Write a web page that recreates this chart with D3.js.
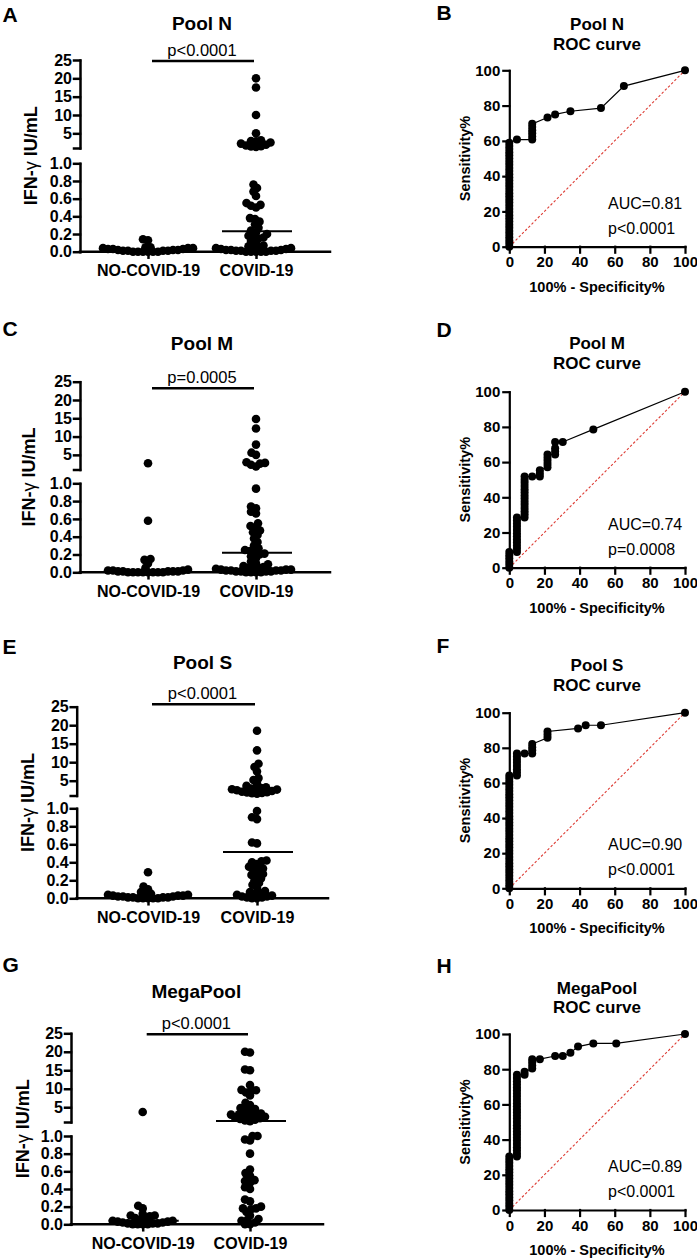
<!DOCTYPE html>
<html>
<head>
<meta charset="utf-8">
<script src="https://cdn.jsdelivr.net/npm/d3@7"></script>
<style>
body { margin: 0; background: #fff; }
text { font-family: "Liberation Sans", Arial, Helvetica, sans-serif; fill: #000; }
</style>
</head>
<body>
<svg id="fig" width="697" height="1260"></svg>
<script>
// ---- data ----
var categories = ["NO-COVID-19", "COVID-19"];
var upperTicks = [5, 10, 15, 20, 25];
var lowerTicks = [0, 0.2, 0.4, 0.6, 0.8, 1.0];
var rocTicks = [0, 20, 40, 60, 80, 100];

var poolTitles = ["Pool N", "Pool M", "Pool S", "MegaPool"];
var groupPValues = ["p<0.0001", "p=0.0005", "p<0.0001", "p<0.0001"];
var aucLabels = ["AUC=0.81", "AUC=0.74", "AUC=0.90", "AUC=0.89"];
var rocPValues = ["p<0.0001", "p=0.0008", "p<0.0001", "p<0.0001"];

// IFN-gamma IU/mL, NO-COVID-19 (n=23) and COVID-19 (n=56)
var poolN_neg = [0.14, 0.13, 0.05, 0.05, 0.04, 0.04, 0.04, 0.03, 0.03, 0.03, 0.02, 0.02, 0.02, 0.01, 0.01, 0.01, 0.01, 0, 0, 0, 0, 0, 0];
var poolN_pos = [20, 17.5, 10, 5, 3.1, 2.9, 2.8, 2.5, 2.2, 1.9, 1.7, 1.5, 1.4, 1.3,
  0.76, 0.72, 0.68, 0.63, 0.55, 0.53, 0.52, 0.50, 0.38, 0.37, 0.34, 0.31, 0.27, 0.24, 0.22,
  0.20, 0.18, 0.17, 0.16, 0.15, 0.12, 0.10, 0.07, 0.06, 0.05, 0.05, 0.04, 0.04, 0.03, 0.03,
  0.02, 0.02, 0.02, 0.01, 0.01, 0.01, 0.01, 0, 0, 0, 0, 0];

var poolM_neg = [2.7, 0.58, 0.15, 0.14, 0.10, 0.05, 0.03, 0.02, 0.02, 0.02, 0.01, 0.01, 0.01, 0.01, 0.01, 0, 0, 0, 0, 0, 0, 0, 0];
var poolM_pos = [14.8, 12.2, 7.8, 5.6, 5.0, 3.0, 2.8, 2.6, 2.3, 1.8,
  0.94, 0.74, 0.72, 0.68, 0.66, 0.55, 0.52, 0.50, 0.47, 0.45, 0.42, 0.38, 0.34, 0.30, 0.27,
  0.25, 0.24, 0.23, 0.21, 0.20, 0.18, 0.16, 0.12, 0.10, 0.09, 0.07, 0.06, 0.05, 0.05, 0.05,
  0.04, 0.03, 0.03, 0.03, 0.02, 0.02, 0.02, 0.02, 0.01, 0.01, 0.01, 0.01, 0, 0, 0, 0];

var poolS_neg = [0.29, 0.13, 0.10, 0.07, 0.05, 0.05, 0.04, 0.04, 0.03, 0.03, 0.03, 0.02, 0.02, 0.02, 0.01, 0.01, 0.01, 0.01, 0, 0, 0, 0, 0];
var poolS_pos = [18.5, 13.2, 9.6, 8.7, 7.5, 5.7, 5.2, 4.2, 3.6, 3.2, 3.0, 2.9, 2.8, 2.7, 2.6,
  2.4, 2.2, 2.0, 1.9, 1.8, 1.7, 1.6, 1.5, 0.97, 0.90, 0.88, 0.62, 0.61, 0.42, 0.41, 0.40,
  0.38, 0.35, 0.33, 0.32, 0.30, 0.27, 0.26, 0.25, 0.22, 0.20, 0.17, 0.15, 0.12, 0.08, 0.07,
  0.06, 0.05, 0.04, 0.03, 0.02, 0.02, 0.01, 0.01, 0, 0];

var megaPool_neg = [3.7, 0.21, 0.18, 0.12, 0.10, 0.10, 0.09, 0.07, 0.06, 0.05, 0.04, 0.04, 0.03, 0.03, 0.02, 0.02, 0.01, 0.01, 0.01, 0, 0, 0, 0];
var megaPool_pos = [20, 19.8, 15.2, 15, 11, 9.7, 9.6, 9.5, 9.0, 8.2, 6.2, 5.6, 4.8, 4.5, 4.2,
  4.0, 3.3, 3.1, 3.0, 2.9, 2.8, 2.6, 2.4, 2.2, 2.0, 1.8, 1.6, 1.4, 1.2, 1.0, 1.0, 0.96,
  0.95, 0.80, 0.62, 0.58, 0.55, 0.50, 0.49, 0.47, 0.42, 0.40, 0.28, 0.26, 0.20, 0.18, 0.18,
  0.17, 0.14, 0.10, 0.06, 0.05, 0.04, 0.02, 0, 0];

// ROC points: [100% - specificity, sensitivity]
var rocPoolN = [[0,0],[0,1.79],[0,3.57],[0,5.36],[0,7.14],[0,8.93],[0,10.71],[0,12.5],[0,14.29],[0,16.07],
  [0,17.86],[0,19.64],[0,21.43],[0,23.21],[0,25],[0,26.79],[0,28.57],[0,30.36],[0,32.14],[0,33.93],
  [0,35.71],[0,37.5],[0,39.29],[0,41.07],[0,42.86],[0,44.64],[0,46.43],[0,48.21],[0,50],[0,51.79],
  [0,53.57],[0,55.36],[0,57.14],[0,58.93],[4.35,60.71],[13.04,60.71],[13.04,62.5],[13.04,64.29],
  [13.04,66.07],[13.04,67.86],[13.04,69.64],[21.74,73.21],[26.09,75],[34.78,76.79],[52.17,78.57],
  [65.22,91.07],[100,100]];
var rocPoolM = [[0,0],[0,1.79],[0,3.57],[0,5.36],[0,7.14],[0,8.93],
  [4.35,8.93],[4.35,10.71],[4.35,12.5],[4.35,14.29],[4.35,16.07],[4.35,17.86],[4.35,19.64],
  [4.35,21.43],[4.35,23.21],[4.35,25],[4.35,26.79],[4.35,28.57],
  [8.7,28.57],[8.7,30.36],[8.7,32.14],[8.7,33.93],[8.7,35.71],[8.7,37.5],[8.7,39.29],[8.7,41.07],
  [8.7,42.86],[8.7,44.64],[8.7,46.43],[8.7,48.21],[8.7,50],[8.7,51.79],
  [13.04,51.79],[17.39,51.79],[17.39,53.57],[17.39,55.36],[21.74,57.14],[21.74,58.93],[21.74,60.71],
  [21.74,62.5],[21.74,64.29],[26.09,64.29],[26.09,66.07],[26.09,67.86],[26.09,71.43],[30.43,71.43],
  [47.83,78.57],[100,100]];
var rocPoolS = [[0,0],[0,1.79],[0,3.57],[0,5.36],[0,7.14],[0,8.93],[0,10.71],[0,12.5],[0,14.29],[0,16.07],
  [0,17.86],[0,19.64],[0,21.43],[0,23.21],[0,25],[0,26.79],[0,28.57],[0,30.36],[0,32.14],[0,33.93],
  [0,35.71],[0,37.5],[0,39.29],[0,41.07],[0,42.86],[0,44.64],[0,46.43],[0,48.21],[0,50],[0,51.79],
  [0,53.57],[0,55.36],[0,57.14],[0,58.93],[0,60.71],[0,62.5],[0,64.29],
  [4.35,64.29],[4.35,66.07],[4.35,67.86],[4.35,69.64],[4.35,71.43],[4.35,73.21],[4.35,75],[4.35,76.79],
  [8.7,76.79],[13.04,76.79],[13.04,78.57],[13.04,80.36],[13.04,82.14],[21.74,85.71],[21.74,87.5],
  [21.74,89.29],[39.13,91.07],[43.48,92.86],[52.17,92.86],[100,100]];
var rocMegaPool = [[0,0],[0,1.79],[0,3.57],[0,5.36],[0,7.14],[0,8.93],[0,10.71],[0,12.5],[0,14.29],
  [0,16.07],[0,17.86],[0,19.64],[0,21.43],[0,23.21],[0,25],[0,26.79],[0,28.57],[0,30.36],
  [4.35,30.36],[4.35,32.14],[4.35,33.93],[4.35,35.71],[4.35,37.5],[4.35,39.29],[4.35,41.07],
  [4.35,42.86],[4.35,44.64],[4.35,46.43],[4.35,48.21],[4.35,50],[4.35,51.79],[4.35,53.57],
  [4.35,55.36],[4.35,57.14],[4.35,58.93],[4.35,60.71],[4.35,62.5],[4.35,64.29],[4.35,66.07],
  [4.35,67.86],[4.35,69.64],[4.35,71.43],[4.35,73.21],[4.35,75],[4.35,76.79],
  [8.7,76.79],[8.7,78.57],[13.04,80.36],[13.04,82.14],[13.04,83.93],[13.04,85.71],[17.39,85.71],
  [26.09,87.5],[30.43,87.5],[34.78,89.29],[39.13,92.86],[47.83,94.64],[60.87,94.64],[100,100]];

// ---- layout (pixels) ----
var scatterLayout = [
  {letter: "A", letterY: 21.5, top: 60, y1u: 148, y1l: 163.3, y0: 251.7, ax: 80, xEnd: 330, c1: 148, c2: 256, titleY: 23.3, barY: 61, ytX: 31},
  {letter: "C", letterY: 336, top: 381.7, y1u: 469.5, y1l: 483.3, y0: 572.3, ax: 80, xEnd: 330, c1: 148, c2: 256, titleY: 343.3, barY: 388.3, ytX: 29},
  {letter: "E", letterY: 654, top: 706.7, y1u: 795.5, y1l: 808.3, y0: 898.3, ax: 76.7, xEnd: 328, c1: 148, c2: 257, titleY: 662.5, barY: 704.3, ytX: 28},
  {letter: "G", letterY: 971.5, top: 1033.3, y1u: 1122, y1l: 1136, y0: 1224.3, ax: 71, xEnd: 323, c1: 142.7, c2: 250, titleY: 991, barY: 1034.3, ytX: 23}
];
var rocLayout = [
  {letter: "B", letterY: 20, y0: 246.7, y100: 70.3, t1: 24, t2: 43.5},
  {letter: "D", letterY: 336.7, y0: 567.7, y100: 391.7, t1: 343.3, t2: 363.3},
  {letter: "F", letterY: 653, y0: 888.3, y100: 712.7, t1: 665, t2: 685},
  {letter: "H", letterY: 973, y0: 1210, y100: 1034, t1: 988, t2: 1006.7}
];
var rocX0 = 509.3, rocX1 = 685, rocMid = 597;

var svg = d3.select("#fig");
var FONT = '"Liberation Sans", Arial, Helvetica, sans-serif';

// simple beeswarm: spread points sideways so dots do not pile up
function swarm(vals, yf, D) {
  var pts = vals.map(function(v) { return {v: v, y: yf(v), dx: 0}; })
    .sort(function(a, b) { return a.v - b.v; });
  var placed = [];
  pts.forEach(function(p) {
    for (var k = 0; k < 800; k++) {
      var off = (k % 2 ? -1 : 1) * Math.ceil(k / 2) * 0.5;
      var hit = placed.some(function(q) {
        var ddx = off - q.dx, ddy = p.y - q.y;
        return ddx * ddx + ddy * ddy < D * D;
      });
      if (!hit) { p.dx = off; break; }
    }
    placed.push(p);
  });
  return pts;
}

function styleAxis(ax, size, sw) {
  ax.attr("font-family", FONT).attr("font-size", size).attr("font-weight", "bold");
  ax.selectAll("path, line").attr("stroke", "#000").attr("stroke-width", sw).attr("stroke-linecap", "square");
  ax.selectAll("text").attr("fill", "#000");
}

function drawScatter(L, title, pText, neg, pos) {
  var g = svg.append("g");
  var lower = d3.scaleLinear().domain([0, 1]).range([L.y0, L.y1l]);
  var upper = d3.scaleLinear().domain([1, 25]).range([L.y1u, L.top]);
  var yv = function(v) { return v <= 1 ? lower(v) : upper(v); };
  var x = d3.scalePoint().domain(categories).range([L.c1, L.c2]);

  g.append("text").attr("x", 2.5).attr("y", L.letterY)
    .attr("font-size", 21).attr("font-weight", "bold").text(L.letter);

  var cx = (L.c1 + L.c2) / 2;
  g.append("text").attr("x", cx).attr("y", L.titleY + 6.8).attr("text-anchor", "middle")
    .attr("font-size", 19).attr("font-weight", "bold").text(title);

  // y axis, broken in two segments
  var ua = g.append("g").attr("transform", "translate(" + L.ax + ",0)")
    .call(d3.axisLeft(upper).tickValues(upperTicks.concat([1]))
      .tickFormat(function(d) { return d === 1 ? "" : d; })
      .tickSize(6).tickSizeOuter(0).tickPadding(2));
  styleAxis(ua, 16, 2.5);
  var la = g.append("g").attr("transform", "translate(" + L.ax + ",0)")
    .call(d3.axisLeft(lower).tickValues(lowerTicks).tickFormat(d3.format(".1f"))
      .tickSize(6).tickSizeOuter(0).tickPadding(2));
  styleAxis(la, 16, 2.5);

  // x axis
  var xa = g.append("g").attr("transform", "translate(0," + L.y0 + ")")
    .call(d3.axisBottom(x).tickSize(6).tickSizeOuter(0).tickPadding(7));
  xa.select(".domain").attr("d", "M" + L.ax + ",0H" + L.xEnd);
  styleAxis(xa, 16, 2.5);

  var yt = g.append("text").attr("transform", "translate(" + L.ytX + "," + ((L.top + L.y0) / 2) + ") rotate(-90)")
    .attr("text-anchor", "middle").attr("dy", "0.36em").attr("font-size", 18).attr("font-weight", "bold");
  yt.append("tspan").text("IFN-");
  yt.append("tspan").attr("font-weight", "normal").text("\u03b3");
  yt.append("tspan").text(" IU/mL");

  // significance bar
  g.append("line").attr("x1", L.c1 + 4).attr("x2", L.c2 - 2).attr("y1", L.barY).attr("y2", L.barY)
    .attr("stroke", "#000").attr("stroke-width", 2.5);
  g.append("text").attr("x", cx).attr("y", L.barY - 5).attr("text-anchor", "middle")
    .attr("font-size", 16.5).text(pText);

  [neg, pos].forEach(function(vals, i) {
    var xc = x(categories[i]);
    var pts = swarm(vals, yv, 4.9);
    g.append("g").selectAll("circle").data(pts).enter().append("circle")
      .attr("cx", function(d) { return xc + d.dx; })
      .attr("cy", function(d) { return d.y; })
      .attr("r", 4.3).attr("fill", "#000");
    var m = yv(d3.median(vals));
    g.append("line").attr("x1", xc - 34).attr("x2", xc + 36).attr("y1", m).attr("y2", m)
      .attr("stroke", "#000").attr("stroke-width", 2);
  });
}

function drawRoc(R, title, auc, pv, pts) {
  var g = svg.append("g");
  var x = d3.scaleLinear().domain([0, 100]).range([rocX0, rocX1]);
  var y = d3.scaleLinear().domain([0, 100]).range([R.y0, R.y100]);

  g.append("text").attr("x", 436.5).attr("y", R.letterY)
    .attr("font-size", 21).attr("font-weight", "bold").text(R.letter);
  g.append("text").attr("x", rocMid).attr("y", R.t1 + 6).attr("text-anchor", "middle")
    .attr("font-size", 17).attr("font-weight", "bold").text(title);
  g.append("text").attr("x", rocMid).attr("y", R.t2 + 6).attr("text-anchor", "middle")
    .attr("font-size", 17).attr("font-weight", "bold").text("ROC curve");

  // chance line, under the axes and the curve
  g.append("path").datum([[0, 0], [100, 100]])
    .attr("d", d3.line().x(function(d) { return x(d[0]); }).y(function(d) { return y(d[1]); }))
    .attr("stroke", "#dd3b33").attr("stroke-width", 1.1).attr("stroke-dasharray", "2.5,2")
    .attr("fill", "none");

  var ya = g.append("g").attr("transform", "translate(" + rocX0 + ",0)")
    .call(d3.axisLeft(y).tickValues(rocTicks).tickSize(6).tickSizeOuter(0).tickPadding(3));
  styleAxis(ya, 15, 2.2);
  var xa = g.append("g").attr("transform", "translate(0," + R.y0 + ")")
    .call(d3.axisBottom(x).tickValues(rocTicks).tickSize(6).tickSizeOuter(0).tickPadding(4));
  styleAxis(xa, 15, 2.2);

  g.append("text").attr("x", rocMid).attr("y", R.y0 + 45).attr("text-anchor", "middle")
    .attr("font-size", 14.5).attr("font-weight", "bold").text("100% - Specificity%");
  g.append("text").attr("transform", "translate(465," + ((R.y0 + R.y100) / 2) + ") rotate(-90)")
    .attr("text-anchor", "middle").attr("dy", "0.36em")
    .attr("font-size", 14.5).attr("font-weight", "bold").text("Sensitivity%");

  g.append("path").datum(pts)
    .attr("d", d3.line().x(function(d) { return x(d[0]); }).y(function(d) { return y(d[1]); }))
    .attr("stroke", "#000").attr("stroke-width", 1.2).attr("fill", "none");
  g.append("g").selectAll("circle").data(pts).enter().append("circle")
    .attr("cx", function(d) { return x(d[0]); })
    .attr("cy", function(d) { return y(d[1]); })
    .attr("r", 4).attr("fill", "#000");

  g.append("text").attr("x", 608).attr("y", R.y0 - 44 + 5.8).attr("font-size", 16).text(auc);
  g.append("text").attr("x", 608).attr("y", R.y0 - 19 + 5.8).attr("font-size", 16).text(pv);
}

var negGroups = [poolN_neg, poolM_neg, poolS_neg, megaPool_neg];
var posGroups = [poolN_pos, poolM_pos, poolS_pos, megaPool_pos];
var rocSets = [rocPoolN, rocPoolM, rocPoolS, rocMegaPool];

scatterLayout.forEach(function(L, i) {
  drawScatter(L, poolTitles[i], groupPValues[i], negGroups[i], posGroups[i]);
});
rocLayout.forEach(function(R, i) {
  drawRoc(R, poolTitles[i], aucLabels[i], rocPValues[i], rocSets[i]);
});
</script>
</body>
</html>
